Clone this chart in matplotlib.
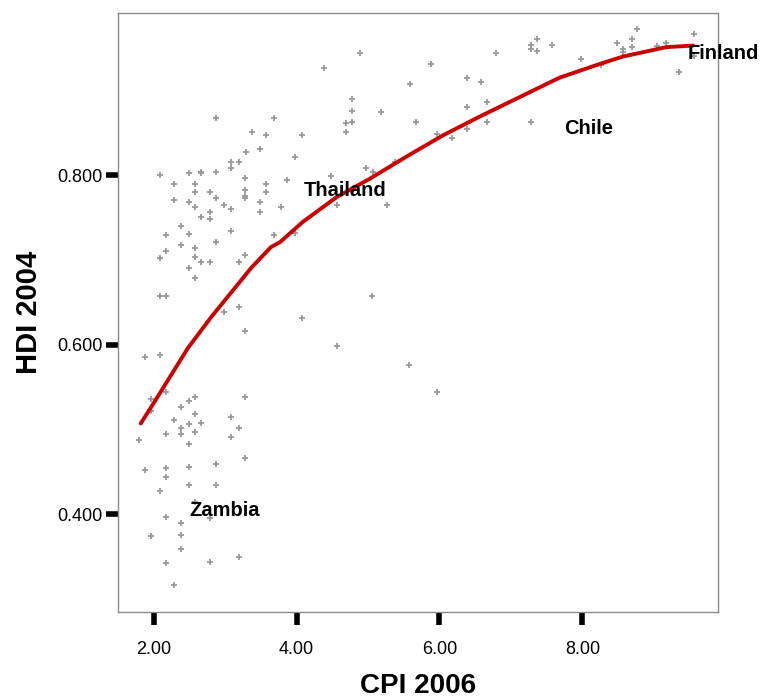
import matplotlib
matplotlib.use("Agg")
import matplotlib.pyplot as plt

# CPI 2006 (x) and HDI 2004 (y) for each country
cpi = [2.88, 3.69, 3.37, 3.57, 4.07, 3.49, 3.29, 3.98, 3.09, 3.20,
       3.09, 2.09, 2.49, 2.67, 2.67, 2.88, 3.28, 2.29, 2.58, 3.57,
       3.86, 2.58, 2.79, 3.28, 3.57, 2.29, 2.49, 2.88, 3.28, 3.28,
       2.58, 2.99, 3.09, 3.49, 3.78, 3.49, 2.79, 2.79, 2.67, 2.38,
       2.18, 2.49, 3.09, 3.69, 3.98, 2.38, 2.18, 2.58, 2.88, 2.58,
       2.09, 3.28, 2.67, 2.79, 3.20, 2.49, 2.58, 2.09, 2.18, 2.99,
       3.20, 4.07, 3.28, 1.88, 2.09, 2.18, 1.97, 1.97, 2.58, 2.49,
       2.38, 3.28, 2.58, 2.29, 2.49, 2.67, 3.09, 2.38, 3.20, 2.18,
       2.38, 2.58, 1.79, 3.09, 2.49, 3.28, 1.88, 2.18, 2.49, 2.88,
       2.18, 2.09, 2.49, 2.88, 2.58, 2.18, 2.38, 2.79, 1.97, 2.38,
       2.38, 2.18, 2.79, 3.20, 2.29,
       4.57, 5.58, 5.06, 5.96, 4.89, 6.79, 4.39, 5.88, 6.38, 6.58,
       5.59, 4.77, 4.77, 5.18, 4.69, 4.77, 4.69, 5.67, 6.38, 6.67,
       6.67, 5.97, 6.17, 6.38, 4.48, 4.97, 5.07, 5.38, 4.57, 5.27,
       7.28, 7.37, 7.28, 7.37, 7.57, 7.98, 8.48, 8.57, 8.57, 8.69,
       8.69, 8.77, 9.05, 9.17, 9.56, 9.56, 9.35, 7.28, 8.26]
hdi = [0.868, 0.868, 0.851, 0.847, 0.847, 0.831, 0.827, 0.822, 0.815, 0.815,
       0.808, 0.800, 0.802, 0.804, 0.802, 0.804, 0.797, 0.790, 0.790, 0.790,
       0.794, 0.780, 0.780, 0.783, 0.780, 0.771, 0.768, 0.773, 0.773, 0.775,
       0.763, 0.765, 0.760, 0.768, 0.763, 0.756, 0.756, 0.748, 0.751, 0.740,
       0.729, 0.731, 0.734, 0.729, 0.732, 0.717, 0.711, 0.714, 0.721, 0.704,
       0.702, 0.706, 0.697, 0.697, 0.697, 0.690, 0.679, 0.658, 0.658, 0.638,
       0.645, 0.631, 0.616, 0.586, 0.588, 0.544, 0.536, 0.522, 0.538, 0.533,
       0.527, 0.538, 0.518, 0.511, 0.506, 0.508, 0.515, 0.502, 0.502, 0.495,
       0.495, 0.497, 0.488, 0.491, 0.483, 0.466, 0.452, 0.454, 0.456, 0.459,
       0.444, 0.427, 0.434, 0.434, 0.414, 0.397, 0.390, 0.395, 0.374, 0.376,
       0.359, 0.342, 0.344, 0.350, 0.317,
       0.599, 0.576, 0.658, 0.544, 0.944, 0.944, 0.927, 0.931, 0.915, 0.910,
       0.908, 0.890, 0.876, 0.874, 0.861, 0.863, 0.851, 0.863, 0.881, 0.886,
       0.863, 0.849, 0.844, 0.855, 0.799, 0.809, 0.804, 0.816, 0.765, 0.765,
       0.954, 0.961, 0.949, 0.947, 0.954, 0.937, 0.956, 0.949, 0.945, 0.961,
       0.951, 0.972, 0.952, 0.956, 0.966, 0.941, 0.922, 0.863, 0.930]

# loess fit line as drawn in the chart
fit_x = [1.82, 2.06, 2.48, 2.81, 3.09, 3.37, 3.64, 3.77, 4.09, 4.56,
         5.03, 5.54, 6.05, 6.56, 7.12, 7.68, 8.20, 8.57, 9.17, 9.55]
fit_y = [0.507, 0.539, 0.596, 0.633, 0.662, 0.691, 0.715, 0.721, 0.745, 0.774,
         0.796, 0.822, 0.847, 0.869, 0.892, 0.915, 0.930, 0.940, 0.951, 0.953]

labels = ["Thailand", "Chile", "Finland", "Zambia"]
label_x = [4.68, 8.09, 9.97, 2.99]
label_y = [0.782, 0.855, 0.944, 0.404]

xticks = [2.0, 4.0, 6.0, 8.0]
yticks = [0.4, 0.6, 0.8]

plt.rcParams['font.family'] = ['Liberation Sans', 'DejaVu Sans']

fig = plt.figure(figsize=(7.64, 6.99), dpi=100)
ax = fig.add_axes([0.154, 0.125, 0.786, 0.856])

ax.scatter(cpi, hdi, marker='+', s=24, linewidths=1.3, color='#999999', zorder=2)
ax.plot(fit_x, fit_y, color='#cc0000', linewidth=2.8, solid_capstyle='round', zorder=3)

for name, lx, ly in zip(labels, label_x, label_y):
    ax.text(lx, ly, name, ha='center', va='center', fontsize=14.5,
            fontweight='bold', zorder=4, clip_on=False)

ax.set_xlim(1.497, 9.90)
ax.set_ylim(0.285, 0.991)
ax.set_xticks(xticks)
ax.set_xticklabels(['%.2f' % v for v in xticks])
ax.set_yticks(yticks)
ax.set_yticklabels(['%.3f' % v for v in yticks])
ax.tick_params(axis='both', direction='out', length=9, width=4, color='black',
               labelsize=13, pad=2)
ax.tick_params(axis='x', pad=12)

for sp in ax.spines.values():
    sp.set_color('#8a8a8a')
    sp.set_linewidth(1.0)

ax.set_xlabel('CPI 2006', fontsize=20, fontweight='bold', labelpad=11)
ax.set_ylabel('HDI 2004', fontsize=21, fontweight='bold', labelpad=10)

fig.savefig('out.png', dpi=100)
